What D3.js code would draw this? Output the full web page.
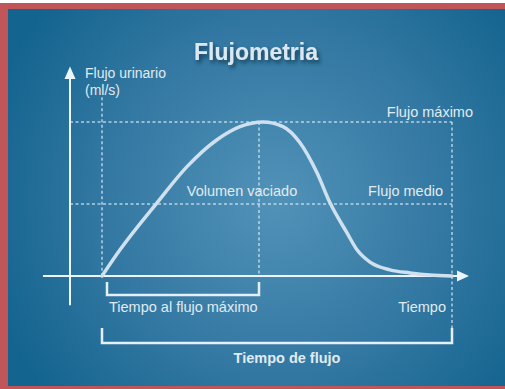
<!DOCTYPE html>
<html>
<head>
<meta charset="utf-8">
<script src="https://cdn.jsdelivr.net/npm/d3@7"></script>
<style>
  body { margin: 0; background: #fff; }
  svg { display: block; font-family: "Liberation Sans", Arial, sans-serif; }
</style>
</head>
<body>
<div class="viz"></div>
<script>
// data: time (s) and urinary flow (ml/s)
var times = [0, 1.8, 5.5, 8.5, 11.5, 13.8, 16.1, 18.1, 19.8, 21.5, 22.8, 24.5, 25.5, 26.8, 28.8, 30.8, 32.8, 35];
var flows = [0, 3.4, 9.5, 14.2, 17.7, 19.4, 20, 19.4, 17.3, 13.4, 9.5, 5.6, 3.4, 1.8, 0.8, 0.4, 0.13, 0];
var flujoMax = 20;
var flujoMedio = 9.35;
var tiempoMax = 15.7;
var tiempoTotal = 35;

var W = 505, H = 389;

var svg = d3.select(".viz").append("svg")
    .attr("width", W)
    .attr("height", H);

var defs = svg.append("defs");
var grad = defs.append("radialGradient")
    .attr("id", "bg")
    .attr("gradientUnits", "userSpaceOnUse")
    .attr("cx", 275).attr("cy", 200).attr("r", 300);
grad.append("stop").attr("offset", "0%").attr("stop-color", "#5192b8");
grad.append("stop").attr("offset", "55%").attr("stop-color", "#3479a3");
grad.append("stop").attr("offset", "100%").attr("stop-color", "#13648f");

var shadow = defs.append("filter").attr("id", "shadow")
    .attr("x", "-20%").attr("y", "-40%").attr("width", "140%").attr("height", "180%");
shadow.append("feDropShadow")
    .attr("dx", 2).attr("dy", 3)
    .attr("stdDeviation", 2)
    .attr("flood-color", "#0a2a40")
    .attr("flood-opacity", 0.8);

// frame
svg.append("rect")
    .attr("x", 0).attr("y", 3).attr("width", W).attr("height", H - 3)
    .attr("fill", "#c1565a");
svg.append("rect")
    .attr("x", 8).attr("y", 9).attr("width", W - 8).attr("height", 377)
    .attr("fill", "url(#bg)");

var x = d3.scaleLinear().domain([0, tiempoTotal]).range([102, 452]);
var y = d3.scaleLinear().domain([0, flujoMax]).range([276, 122]);

var dashColor = "rgba(225,238,247,0.75)";
var lineColor = "#eef5fa";

function dashed(x1, y1, x2, y2) {
    svg.append("line")
        .attr("x1", x1).attr("y1", y1)
        .attr("x2", x2).attr("y2", y2)
        .attr("stroke", dashColor)
        .attr("stroke-width", 1.5)
        .attr("stroke-dasharray", "3,2.5");
}

// guide lines
dashed(x(-3.2), y(flujoMax), x(tiempoTotal), y(flujoMax));
dashed(x(-3.2), y(flujoMedio), x(tiempoTotal), y(flujoMedio));
dashed(x(0), y(23.2), x(0), y(0));
dashed(x(tiempoMax), y(flujoMax), x(tiempoMax), y(0));
dashed(x(tiempoTotal), y(flujoMax), x(tiempoTotal), y(-6.8));

// axes
svg.append("line")
    .attr("x1", x(-5.9)).attr("y1", y(0))
    .attr("x2", x(35.7)).attr("y2", y(0))
    .attr("stroke", lineColor).attr("stroke-width", 2);
svg.append("path")
    .attr("d", `M${x(36.7)},${y(0)} L${x(35.5)},${y(0) - 5.5} L${x(35.5)},${y(0) + 5.5} Z`)
    .attr("fill", lineColor);

svg.append("line")
    .attr("x1", x(-3.2)).attr("y1", y(-3.8))
    .attr("x2", x(-3.2)).attr("y2", y(25.8))
    .attr("stroke", lineColor).attr("stroke-width", 2);
svg.append("path")
    .attr("d", `M${x(-3.2)},${y(27.2)} L${x(-3.2) - 5.5},${y(25.6)} L${x(-3.2) + 5.5},${y(25.6)} Z`)
    .attr("fill", lineColor);

// flow curve
var data = times.map(function (t, i) { return { t: t, f: flows[i] }; });
svg.append("path")
    .datum(data)
    .attr("fill", "none")
    .attr("stroke", "#cfe1ee")
    .attr("stroke-width", 3.5)
    .attr("stroke-linecap", "round")
    .attr("d", d3.line()
        .x(function (d) { return x(d.t); })
        .y(function (d) { return y(d.f); })
        .curve(d3.curveMonotoneX));

// brackets
function bracket(t1, t2, top, bottom) {
    svg.append("path")
        .attr("d", `M${x(t1)},${top} V${bottom} H${x(t2)} V${top}`)
        .attr("fill", "none")
        .attr("stroke", "#e6eff6")
        .attr("stroke-width", 2.5);
}
bracket(0.5, tiempoMax, 282, 295);
bracket(0, tiempoTotal, 328, 343);

// texts
var txtColor = "#e1ebf2";
function label(t, xp, yp, anchor, size, weight) {
    return svg.append("text")
        .attr("x", xp).attr("y", yp)
        .attr("text-anchor", anchor || "start")
        .attr("fill", txtColor)
        .style("font-size", (size || 14.5) + "px")
        .style("font-weight", weight || "normal")
        .text(t);
}

label("Flujometria", 256, 60, "middle", 23, "bold")
    .attr("fill", "#d9e8f2")
    .attr("filter", "url(#shadow)");

label("Flujo urinario", 85, 78, "start", 14);
label("(ml/s)", 85, 95, "start", 14);
label("Flujo máximo", 473, 117, "end");
label("Volumen vaciado", 242, 196, "middle");
label("Flujo medio", 443, 196, "end");
label("Tiempo al flujo máximo", 109, 312, "start");
label("Tiempo", 446, 312, "end");
label("Tiempo de flujo", 287, 363, "middle", 14.5, "bold");
</script>
</body>
</html>
